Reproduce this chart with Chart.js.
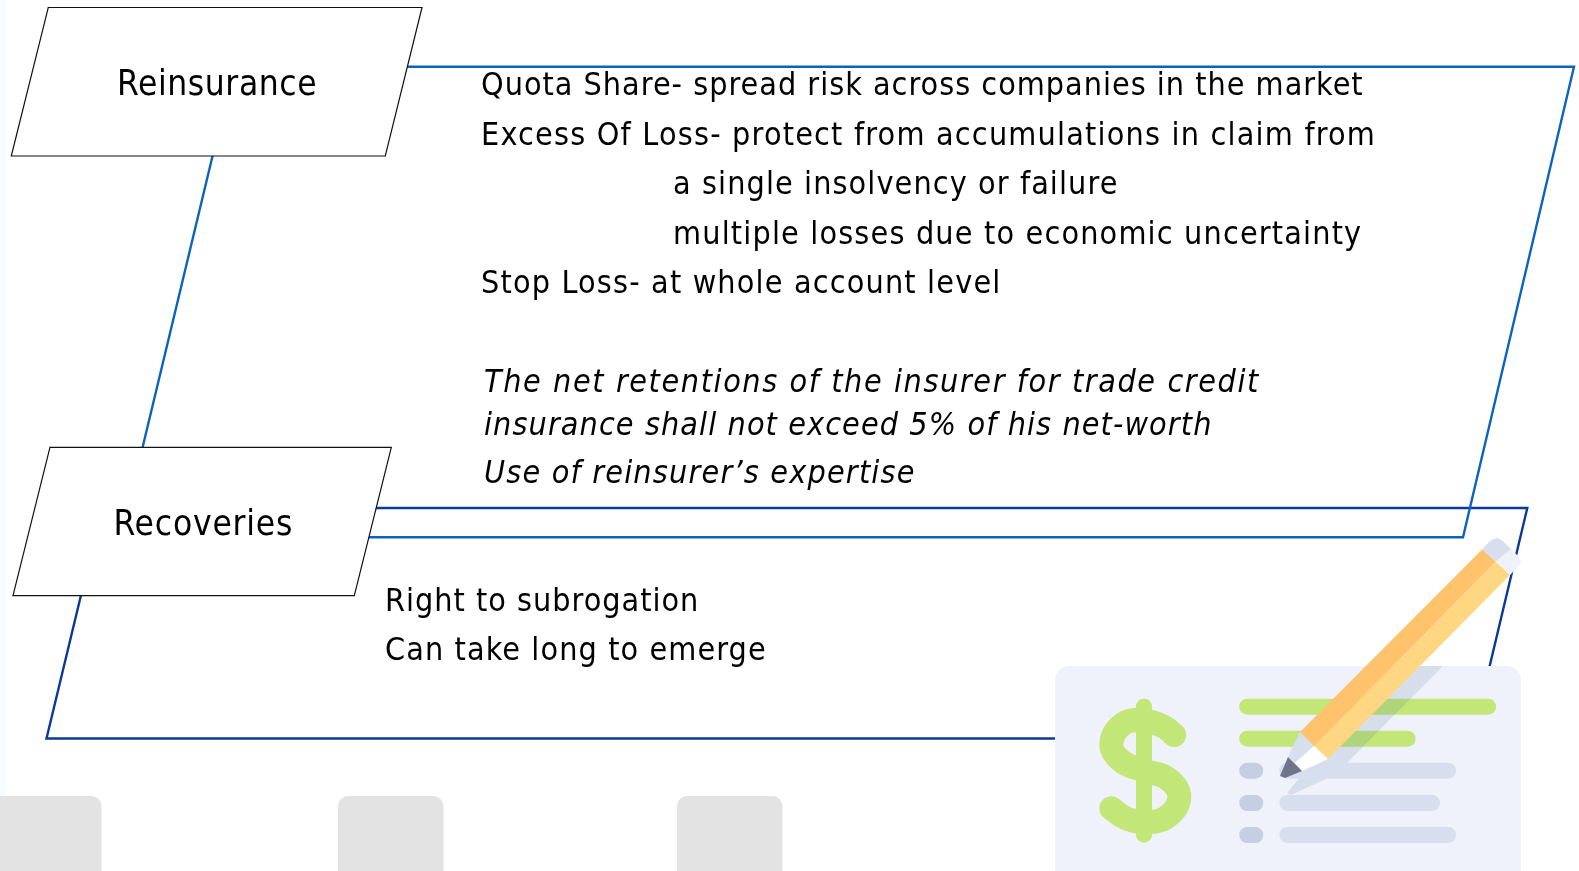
<!DOCTYPE html>
<html>
<head>
<meta charset="utf-8">
<title>Reinsurance and recoveries</title>
<style>
    html, body { margin: 0; padding: 0; background: #fff; overflow: hidden; }
    canvas { display: block; }
</style>
<script src="https://cdn.jsdelivr.net/npm/chart.js@4"></script>
</head>
<body>
<canvas id="chart" width="1579" height="871"></canvas>
<script>
// outlines
var frameTopX = [234, 1574, 1463, 121, 234];
var frameTopY = [66.7, 66.7, 537.3, 537.3, 66.7];
var frameLowX = [102, 1527.3, 1472.4, 46.5, 102];
var frameLowY = [508, 508, 738.5, 738.5, 508];
var boxReinsX = [48.3, 422, 385.3, 11.3, 48.3];
var boxReinsY = [7.5, 7.5, 156, 156, 7.5];
var boxRecovX = [50, 391.3, 354.3, 13, 50];
var boxRecovY = [447.3, 447.3, 595.7, 595.7, 447.3];

var edgeX = [0, 6, 6, 0, 0];
var edgeY = [0, 0, 871, 871, 0];
var tabY = [806, 806, 890, 890, 806];
var tab1X = [-20, 91.5, 91.5, -20, -20];
var tab2X = [348, 433.5, 433.5, 348, 348];
var tab3X = [687, 772.5, 772.5, 687, 687];

// cheque icon
var cardX = [1069, 1507, 1507, 1069, 1069];
var cardY = [680, 680, 900, 900, 680];
var greenBar1X = [1247.2, 1488.1];
var greenBar1Y = [706.7, 706.7];
var greenBar2X = [1247.2, 1407.7];
var greenBar2Y = [738.7, 738.7];
var dot1X = [1247.2, 1255.3];
var dot1Y = [770.7, 770.7];
var dot2Y = [803, 803];
var dot3Y = [835, 835];
var row1X = [1287.3, 1448];
var row2X = [1287.3, 1432.1];
var dollarStemX = [1144, 1144];
var dollarStemY = [706.7, 834.7];
var dollarCurveX = [1174.2, 1163.8, 1144.8, 1124, 1111.3, 1122.3, 1144.8, 1167.3, 1179.3, 1167.3, 1144.8, 1125.8, 1111.3];
var dollarCurveY = [735, 726.7, 720.7, 723.3, 744, 761.7, 770.7, 778.3, 796.7, 816.7, 822.3, 818.3, 808.3];
var shadowX = [1443, 1365, 1300, 1287, 1291, 1326, 1347];
var shadowY = [666, 666, 777, 793, 795, 779, 763];

// pencil
var pencilDarkX = [1300, 1482.3, 1496, 1314, 1300];
var pencilDarkY = [732, 549.3, 561.7, 746, 732];
var pencilLightX = [1314, 1496, 1510, 1328, 1314];
var pencilLightY = [746, 561.7, 575, 759, 746];
var eraserDarkX = [1482.3, 1490, 1497, 1503, 1511, 1496, 1482.3];
var eraserDarkY = [549.3, 541, 537.7, 541, 549, 561.7, 549.3];
var eraserLightX = [1496, 1511, 1517, 1521, 1518, 1510, 1496];
var eraserLightY = [561.7, 549, 555, 562, 567, 575, 561.7];
var woodX = [1300, 1314, 1295, 1288, 1300];
var woodY = [732, 746, 763, 757, 732];
var tipX = [1314, 1328, 1302, 1295, 1314];
var tipY = [746, 759, 771, 763, 746];
var leadX = [1288, 1302, 1285, 1280, 1288];
var leadY = [757, 771, 778, 776, 757];

// text
var titles = ['Reinsurance', 'Recoveries'];
var titleX = [117, 113.5];
var titleY = [95, 535];
var titleSpacing = [0.6, 0.8];
var bodyLines = [
    'Quota Share- spread risk across companies in the market',
    'Excess Of Loss- protect from accumulations in claim from',
    'a single insolvency or failure',
    'multiple losses due to economic uncertainty',
    'Stop Loss- at whole account level',
    'Right to subrogation',
    'Can take long to emerge'
];
var bodyX = [481, 481, 673, 673, 481, 385, 385];
var bodyY = [95, 144.5, 194, 243.5, 293, 610.7, 660];
var bodySpacing = [1.0, 1.2, 1.1, 1.17, 1.17, 1.0, 1.1];
var italicLines = [
    'The net retentions of the insurer for trade credit',
    'insurance shall not exceed 5% of his net-worth',
    'Use of reinsurer\u2019s expertise'
];
var italicX = [484, 484, 484];
var italicY = [391.7, 435, 483];
var italicSpacing = [1.6, 1.1, 1.2];

var datasets = [];

function toPoints(xs, ys) {
    return xs.map(function (x, i) { return { x: x, y: ys[i] }; });
}

function outline(xs, ys, color, width) {
    datasets.push({ data: toPoints(xs, ys), borderColor: color, borderWidth: width, fill: false, borderCapStyle: 'square', borderJoinStyle: 'miter' });
}

function solid(xs, ys, color) {
    datasets.push({ data: toPoints(xs, ys), borderColor: color, borderWidth: 0, backgroundColor: color, fill: 'shape' });
}

// solid shape with a thick round border, gives the rounded corners
function rounded(xs, ys, color, radius) {
    datasets.push({ data: toPoints(xs, ys), borderColor: color, borderWidth: radius * 2, backgroundColor: color, fill: 'shape', borderCapStyle: 'round', borderJoinStyle: 'round' });
}

function pill(xs, ys, color) {
    datasets.push({ data: toPoints(xs, ys), borderColor: color, borderWidth: 16, fill: false, borderCapStyle: 'round' });
}

function stroke(xs, ys, color, width, curve) {
    datasets.push({ data: toPoints(xs, ys), borderColor: color, borderWidth: width, fill: false, borderCapStyle: 'round', borderJoinStyle: 'round', tension: curve });
}

solid(edgeX, edgeY, 'rgba(225,238,248,0.2)');
outline(frameLowX, frameLowY, '#0a3a96', 2.4);
outline(frameTopX, frameTopY, '#0b63bd', 2.4);
solid(boxReinsX, boxReinsY, '#ffffff');
outline(boxReinsX, boxReinsY, '#111111', 1.2);
solid(boxRecovX, boxRecovY, '#ffffff');
outline(boxRecovX, boxRecovY, '#111111', 1.2);

rounded(tab1X, tabY, '#e3e3e3', 10);
rounded(tab2X, tabY, '#e3e3e3', 10);
rounded(tab3X, tabY, '#e3e3e3', 10);

rounded(cardX, cardY, '#eff2fa', 14);
stroke(dollarStemX, dollarStemY, '#c3e678', 16, 0);
stroke(dollarCurveX, dollarCurveY, '#c3e678', 24, 0.4);
pill(greenBar1X, greenBar1Y, '#c3e678');
pill(greenBar2X, greenBar2Y, '#c3e678');
solid(shadowX, shadowY, 'rgba(40,80,130,0.12)');
pill(row1X, dot1Y, '#d7dfee');
pill(row2X, dot2Y, '#d7dfee');
pill(row1X, dot3Y, '#d7dfee');
pill(dot1X, dot1Y, '#c6cee2');
pill(dot1X, dot2Y, '#c6cee2');
pill(dot1X, dot3Y, '#c6cee2');

solid(pencilDarkX, pencilDarkY, '#ffc36e');
solid(pencilLightX, pencilLightY, '#ffd782');
solid(eraserDarkX, eraserDarkY, '#d7dfee');
solid(eraserLightX, eraserLightY, '#eff2fa');
solid(woodX, woodY, '#d7dfee');
solid(tipX, tipY, '#ffffff');
solid(leadX, leadY, '#6f7586');

// chart.js paints the first dataset on top, so turn the order round
datasets.forEach(function (ds, i) {
    ds.order = datasets.length - i;
    ds.showLine = true;
    ds.pointRadius = 0;
    ds.clip = false;
});

var textPlugin = {
    id: 'slideText',
    afterDatasetsDraw: function (chart) {
        var ctx = chart.ctx;
        var sx = chart.scales.x;
        var sy = chart.scales.y;

        function write(lines, xs, ys, font, spacing) {
            ctx.font = font;
            lines.forEach(function (line, i) {
                ctx.letterSpacing = spacing[i] + 'px';
                ctx.fillText(line, sx.getPixelForValue(xs[i]), sy.getPixelForValue(ys[i]));
            });
        }

        ctx.save();
        ctx.fillStyle = '#000';
        ctx.textAlign = 'left';
        ctx.textBaseline = 'alphabetic';
        write(titles, titleX, titleY, '35px "DejaVu Sans Condensed"', titleSpacing);
        write(bodyLines, bodyX, bodyY, '32px "DejaVu Sans Condensed"', bodySpacing);
        write(italicLines, italicX, italicY, 'italic 32px "DejaVu Sans Condensed"', italicSpacing);
        ctx.restore();
    }
};

new Chart(document.getElementById('chart').getContext('2d'), {
    type: 'scatter',
    data: { datasets: datasets },
    plugins: [textPlugin],
    options: {
        responsive: false,
        animation: false,
        layout: { padding: 0 },
        plugins: { legend: { display: false }, tooltip: { enabled: false } },
        scales: {
            x: { type: 'linear', display: false, min: 0, max: 1579 },
            y: { type: 'linear', display: false, min: 0, max: 871, reverse: true }
        }
    }
});
</script>
</body>
</html>
